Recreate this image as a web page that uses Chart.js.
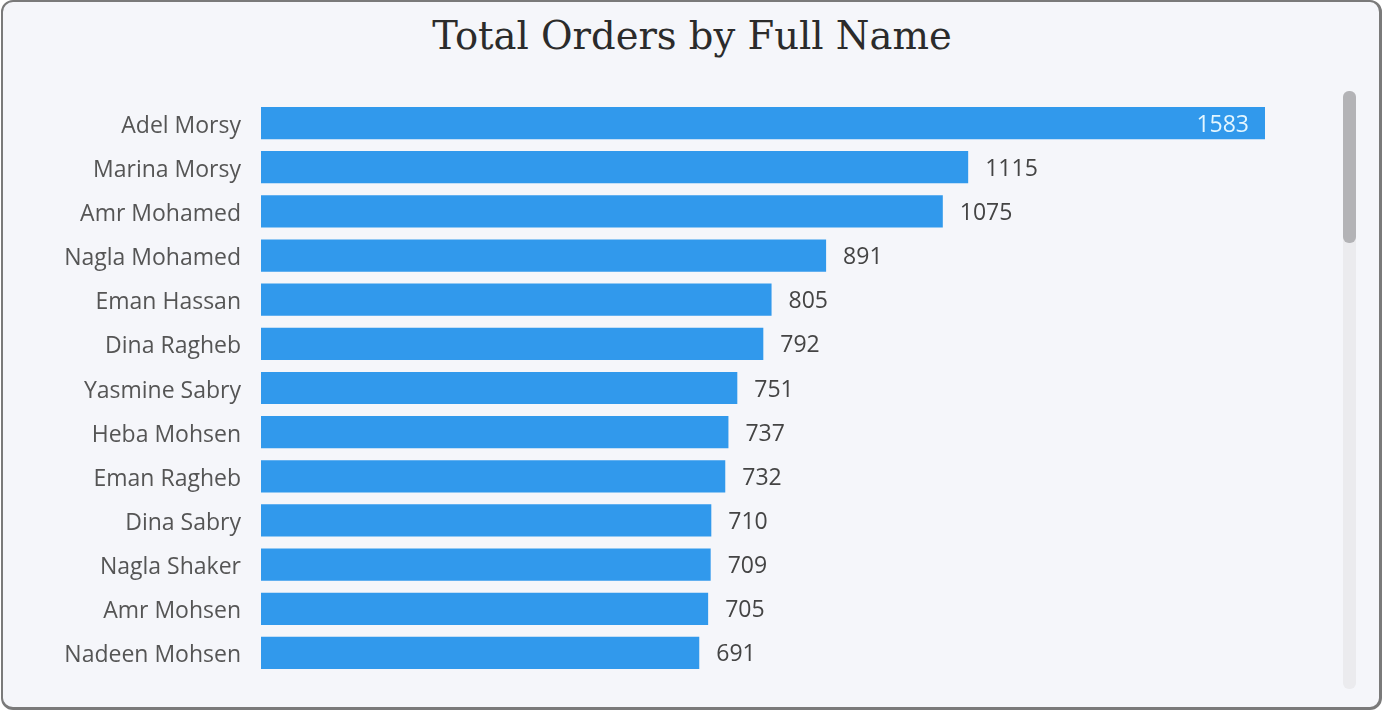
<!DOCTYPE html>
<html>
<head>
<meta charset="utf-8">
<script src="https://cdn.jsdelivr.net/npm/chart.js@4"></script>
<style>
  html, body { margin: 0; padding: 0; background: #fff; }
  #wrap { position: relative; width: 1384px; height: 712px; overflow: hidden; }
  #card {
    position: absolute; left: 1px; top: 0; width: 1376px; height: 705px;
    background: #f5f6fa; border: 2px solid #7a7a7a; border-right-width: 3px; border-bottom-width: 3px;
    border-radius: 12px;
  }
  #title {
    position: absolute; left: 0; top: 17px; width: 1384px; text-align: center;
    font-family: "DejaVu Serif", "Liberation Serif", serif; font-size: 38.5px; line-height: 1;
    color: #2b2b2b;
  }
  #chart { position: absolute; left: 0; top: 0; }
  #track { position: absolute; left: 1343px; top: 91px; width: 13px; height: 598px; background: #ebebee; border-radius: 6px; }
  #thumb { position: absolute; left: 1343px; top: 91px; width: 13px; height: 152px; background: #b3b3b6; border-radius: 6px; }
</style>
</head>
<body>
<div id="wrap">
  <div id="card"></div>
  <div id="title"></div>
  <canvas id="chart" width="1384" height="712"></canvas>
  <div id="track"></div>
  <div id="thumb"></div>
</div>
<script>
// chart data
const names = [
  'Adel Morsy', 'Marina Morsy', 'Amr Mohamed', 'Nagla Mohamed', 'Eman Hassan',
  'Dina Ragheb', 'Yasmine Sabry', 'Heba Mohsen', 'Eman Ragheb', 'Dina Sabry',
  'Nagla Shaker', 'Amr Mohsen', 'Nadeen Mohsen'
];
const totalOrders = [1583, 1115, 1075, 891, 805, 792, 751, 737, 732, 710, 709, 705, 691];
const chartTitle = 'Total Orders by Full Name';

const labelFont = '"Open Sans", "Noto Sans", sans-serif';

// title sits over the whole card, not just the plot
document.getElementById('title').textContent = chartTitle;

// draws the numbers next to each bar (the biggest one sits inside)
const valueLabels = {
  id: 'valueLabels',
  afterDatasetsDraw(chart) {
    const ctx = chart.ctx;
    const meta = chart.getDatasetMeta(0);
    const maxVal = Math.max(...totalOrders);
    ctx.save();
    ctx.font = '23px ' + labelFont;
    ctx.textBaseline = 'middle';
    meta.data.forEach((bar, i) => {
      const v = totalOrders[i];
      if (v === maxVal) {
        ctx.fillStyle = '#e3f6ff';
        ctx.textAlign = 'right';
        ctx.fillText(String(v), bar.x - 16, bar.y + 2);
      } else {
        ctx.fillStyle = '#444';
        ctx.textAlign = 'left';
        ctx.fillText(String(v), bar.x + 17, bar.y + 2);
      }
    });
    ctx.restore();
  }
};

new Chart(document.getElementById('chart'), {
  type: 'bar',
  data: {
    labels: names,
    datasets: [{
      data: totalOrders,
      backgroundColor: '#3199ec',
      borderWidth: 0,
      barPercentage: 0.73,
      categoryPercentage: 1
    }]
  },
  options: {
    indexAxis: 'y',
    responsive: false,
    animation: false,
    layout: { padding: { left: 0, right: 119, top: 101, bottom: 37 } },
    scales: {
      x: { display: false, min: 0, max: Math.max(...totalOrders) },
      y: {
        grid: { display: false, drawTicks: false },
        border: { display: false },
        afterFit(scale) { scale.width = 261; },
        ticks: {
          padding: 20,
          labelOffset: 3,
          color: '#555',
          font: { family: labelFont, size: 23 }
        }
      }
    },
    plugins: {
      legend: { display: false },
      tooltip: { enabled: false },
      title: { display: false }
    }
  },
  plugins: [valueLabels]
});
</script>
</body>
</html>
